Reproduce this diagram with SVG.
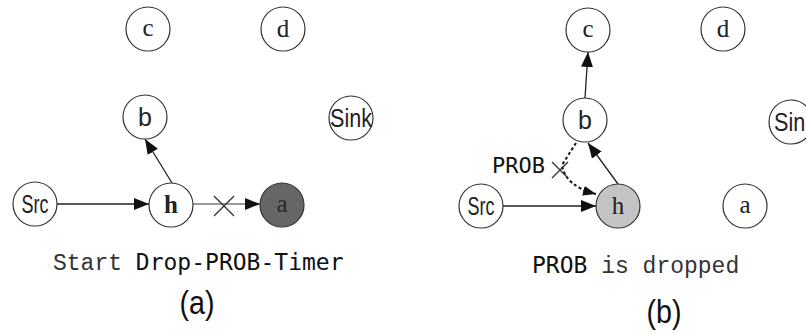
<svg xmlns="http://www.w3.org/2000/svg" width="806" height="334" viewBox="0 0 806 334">
<style>
.node circle{fill:#fff;stroke:#333;stroke-width:1.2}
.lbl{font-family:"Liberation Serif",serif;font-size:25px;fill:#222;text-anchor:middle}
.sans{font-family:"Liberation Sans",Arial,sans-serif;font-size:25px;fill:#222;text-anchor:middle}
.edge{stroke:#222;stroke-width:1.3;fill:none}
.mono{font-family:"Liberation Mono",monospace;font-size:23px;fill:#333}
.smono{font-family:"DejaVu Sans Mono",monospace;fill:#111}
.cap{font-family:"Liberation Sans",Arial,sans-serif;font-size:34px;fill:#111;text-anchor:middle}
</style>
<defs>
<marker id="arr" markerUnits="userSpaceOnUse" markerWidth="16" markerHeight="12" refX="15" refY="6" orient="auto">
<path d="M0,0 L15,6 L0,12 Z" fill="#111"/>
</marker>
<marker id="arrs" markerUnits="userSpaceOnUse" markerWidth="14" markerHeight="10" refX="13" refY="5" orient="auto">
<path d="M0,0 L13,5 L0,10 Z" fill="#111"/>
</marker>
</defs>

<g id="connectors">
<line class="edge" x1="57" y1="204" x2="149" y2="204" marker-end="url(#arr)"/>
<line class="edge" x1="172" y1="183" x2="145" y2="139" marker-end="url(#arr)"/>
<line x1="193" y1="204" x2="260" y2="204" stroke="#999" stroke-width="2" marker-end="url(#arr)"/>
<path d="M214,196 L234,216 M234,196 L214,216" stroke="#333" stroke-width="1.3" fill="none"/>
<line class="edge" x1="585" y1="98" x2="588" y2="52" marker-end="url(#arr)"/>
<line class="edge" x1="618" y1="184" x2="588" y2="143" marker-end="url(#arr)"/>
<line class="edge" x1="503" y1="206" x2="596" y2="206" marker-end="url(#arr)"/>
<path d="M576,143 L562,165 Q565,186 596,194" stroke="#111" stroke-width="2" stroke-dasharray="3,2.5" fill="none" marker-end="url(#arrs)"/>
<path d="M552,162 L568,178 M568,162 L552,178" stroke="#333" stroke-width="1.3" fill="none"/>
</g>

<g id="a-c" class="node"><circle cx="148" cy="29" r="22"/><text class="lbl" x="148" y="36">c</text></g>
<g id="a-d" class="node"><circle cx="283" cy="29" r="22"/><text class="lbl" x="283" y="37">d</text></g>
<g id="a-b" class="node"><circle cx="145" cy="117" r="22"/><text class="sans" x="145" y="126" font-size="23">b</text></g>
<g id="a-sink" class="node"><circle cx="351" cy="118" r="22"/><text class="sans" x="351" y="127" textLength="42" lengthAdjust="spacingAndGlyphs">Sink</text></g>
<g id="a-src" class="node"><circle cx="35" cy="204" r="22"/><text class="sans" x="35" y="213" textLength="27" lengthAdjust="spacingAndGlyphs">Src</text></g>
<g id="a-h" class="node"><circle cx="171" cy="205" r="22"/><text class="lbl" x="171" y="213" font-weight="bold">h</text></g>
<g id="a-a" class="node"><circle cx="282" cy="205" r="22" style="fill:#666"/><text class="lbl" x="282" y="212" style="fill:#2a2a2a">a</text></g>

<g id="b-c" class="node"><circle cx="588" cy="30" r="22"/><text class="lbl" x="588" y="37">c</text></g>
<g id="b-d" class="node"><circle cx="723" cy="29" r="22"/><text class="lbl" x="723" y="37">d</text></g>
<g id="b-b" class="node"><circle cx="585" cy="120" r="22"/><text class="sans" x="585" y="129" font-size="23">b</text></g>
<g id="b-sink" class="node"><circle cx="791" cy="122" r="22"/><text class="sans" x="795" y="131" textLength="42" lengthAdjust="spacingAndGlyphs">Sink</text></g>
<g id="b-src" class="node"><circle cx="481" cy="206" r="22"/><text class="sans" x="481" y="215" textLength="27" lengthAdjust="spacingAndGlyphs">Src</text></g>
<g id="b-h" class="node"><circle cx="618" cy="206" r="22" style="fill:#c4c4c4"/><text class="lbl" x="618" y="214">h</text></g>
<g id="b-a" class="node"><circle cx="745" cy="206" r="22"/><text class="lbl" x="745" y="213">a</text></g>

<text class="smono" x="492" y="173" font-size="21" textLength="53" lengthAdjust="spacingAndGlyphs">PROB</text>
<text x="53" y="270" class="mono"><tspan>Start </tspan><tspan class="smono" font-size="23">Drop-PROB-Timer</tspan></text>
<text x="532" y="273" class="mono"><tspan class="smono" font-size="23">PROB</tspan><tspan> is dropped</tspan></text>
<text class="cap" x="197" y="314" textLength="35" lengthAdjust="spacingAndGlyphs">(a)</text>
<text class="cap" x="664" y="323" textLength="35" lengthAdjust="spacingAndGlyphs">(b)</text>
</svg>
